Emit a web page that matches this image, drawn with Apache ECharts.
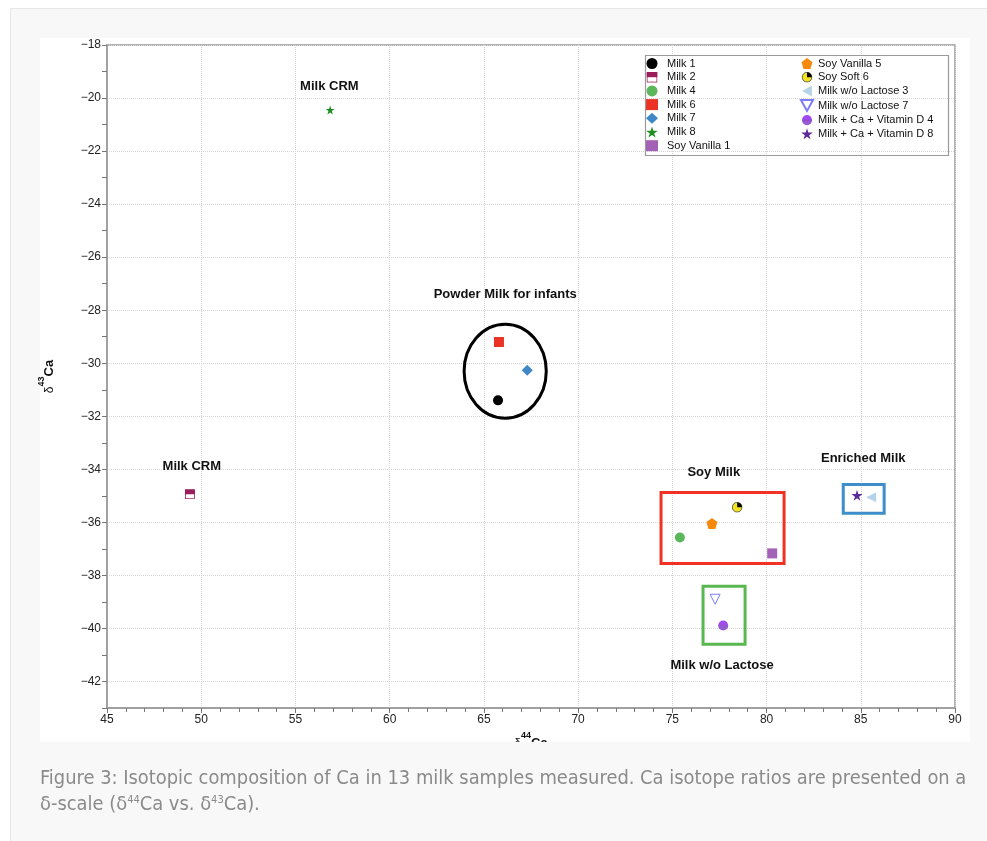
<!DOCTYPE html>
<html>
<head>
<meta charset="utf-8">
<script src="https://cdn.jsdelivr.net/npm/echarts@6/dist/echarts.min.js"></script>
<style>
html, body { margin: 0; padding: 0; background: #fff; }
#main { width: 987px; height: 841px; }
</style>
</head>
<body>
<div id="main"></div>
<script>
// samples (delta44Ca, delta43Ca)
var sampleNames = ['Milk 1', 'Milk 2', 'Milk 4', 'Milk 6', 'Milk 7', 'Milk 8', 'Soy Vanilla 1',
	'Soy Vanilla 5', 'Soy Soft 6', 'Milk w/o Lactose 3', 'Milk w/o Lactose 7',
	'Milk + Ca + Vitamin D 4', 'Milk + Ca + Vitamin D 8'];
var d44 = [65.75, 49.4, 75.4, 65.8, 67.3, 56.84, 80.3, 77.1, 78.44, 85.55, 77.27, 77.7, 84.8];
var d43 = [-31.4, -34.94, -36.57, -29.2, -30.26, -20.45, -37.17, -36.04, -35.43, -35.05, -38.9, -39.89, -34.98];

// group captions
var groupNames = ['Milk CRM', 'Powder Milk for infants', 'Milk CRM', 'Soy Milk', 'Enriched Milk', 'Milk w/o Lactose'];
var groupX = [56.8, 66.13, 49.5, 77.2, 85.13, 77.64];
var groupY = [-19.55, -27.4, -33.89, -34.11, -33.58, -41.4];

// boxes round the groups: x0, y0, x1, y1
var boxX0 = [74.4, 76.63, 84.07];
var boxY0 = [-34.87, -38.41, -34.57];
var boxX1 = [80.93, 78.86, 86.24];
var boxY1 = [-37.55, -40.6, -35.66];
var boxColors = ['#f03224', '#58b84f', '#3d8ec9'];

// ellipse round the infant milks: cx, cy, rx, ry
var ellipseC = [66.13, -30.3];
var ellipseR = [2.18, 1.77];

var star = 'path://M50,0 L61,35 L98,35 L68,57 L79,91 L50,70 L21,91 L32,57 L2,35 L39,35 Z';
var pentagon = 'path://M50,0 L100,38 L81,100 L19,100 L0,38 Z';
var triLeft = 'path://M0,50 L90,0 L90,100 Z';
var triDown = 'path://M0,0 L100,0 L50,90 Z';

function svgIcon(body) {
	return 'image://data:image/svg+xml;charset=utf-8,' + encodeURIComponent(
		"<svg xmlns='http://www.w3.org/2000/svg' width='24' height='24' viewBox='0 0 12 12'>" + body + "</svg>");
}
var halfSquare = svgIcon("<rect x='0.6' y='0.6' width='10.8' height='10.8' fill='#fff' stroke='#9b1c5b' stroke-width='1'/><rect x='0' y='0' width='12' height='6' fill='#9b1c5b'/>");
var pieCircle = svgIcon("<circle cx='6' cy='6' r='5.3' fill='#f3e322' stroke='#333' stroke-width='0.8'/><path d='M6,6 L6,0.7 A5.3,5.3 0 0 1 11.3,6 Z' fill='#000'/>");
var halfCircle = svgIcon("<path d='M0.5,6 A5.5,5.5 0 0 1 11.5,6 Z' fill='#a24cf0'/><path d='M0.5,6 A5.5,5.5 0 0 0 11.5,6 Z' fill='#9657d2'/><line x1='0.5' y1='6' x2='11.5' y2='6' stroke='#7a3fb0' stroke-width='0.6'/>");

var symbols = ['circle', halfSquare, 'circle', 'rect', 'diamond', star, 'rect',
	pentagon, pieCircle, triLeft, triDown, halfCircle, star];
var sizes = [10, 10, 10, 10, 11, 9, 10, 11, 11, 10, 10, 11, 11];
var colors = ['#000000', '#9b1c5b', '#5cb65a', '#ea3325', '#3f88c8', '#1d8f20', '#a362b5',
	'#f7890f', '#f3e322', '#b7d3ea', '#ffffff', '#a24cf0', '#5a2a98'];

var font = 'Liberation Sans, Arial, Helvetica, sans-serif';
var capFont = '"DejaVu Sans Condensed", "Liberation Sans Narrow", sans-serif';

var series = sampleNames.map(function (name, i) {
	var s = {
		name: name,
		type: 'scatter',
		symbol: symbols[i],
		symbolSize: sizes[i],
		itemStyle: { color: colors[i], opacity: 1 },
		data: [[d44[i], d43[i]]],
		z: 5
	};
	if (name === 'Milk w/o Lactose 7') {
		s.itemStyle = { color: '#ffffff', borderColor: '#7d7dfa', borderWidth: 1, opacity: 1 };
	}
	return s;
});

series.push({
	type: 'custom',
	name: 'boxes',
	silent: true,
	z: 3,
	data: boxX0.map(function (v, i) { return [v, boxY0[i], boxX1[i], boxY1[i]]; }),
	encode: { x: [0, 2], y: [1, 3] },
	renderItem: function (params, api) {
		var p0 = api.coord([api.value(0), api.value(1)]);
		var p1 = api.coord([api.value(2), api.value(3)]);
		return {
			type: 'rect',
			shape: { x: Math.min(p0[0], p1[0]), y: Math.min(p0[1], p1[1]),
				width: Math.abs(p1[0] - p0[0]), height: Math.abs(p1[1] - p0[1]) },
			style: { fill: 'none', stroke: boxColors[params.dataIndex], lineWidth: 3 }
		};
	}
});

series.push({
	type: 'custom',
	name: 'ellipse',
	silent: true,
	z: 3,
	data: [[ellipseC[0], ellipseC[1], ellipseR[0], ellipseR[1]]],
	encode: { x: 0, y: 1 },
	renderItem: function (params, api) {
		var c = api.coord([api.value(0), api.value(1)]);
		var px = api.coord([api.value(0) + api.value(2), api.value(1)]);
		var py = api.coord([api.value(0), api.value(1) + api.value(3)]);
		return {
			type: 'ellipse',
			shape: { cx: c[0], cy: c[1], rx: Math.abs(px[0] - c[0]), ry: Math.abs(c[1] - py[1]) },
			style: { fill: 'none', stroke: '#000', lineWidth: 3 }
		};
	}
});

series.push({
	type: 'custom',
	name: 'groups',
	silent: true,
	z: 4,
	data: groupX.map(function (v, i) { return [v, groupY[i]]; }),
	encode: { x: 0, y: 1 },
	renderItem: function (params, api) {
		var p = api.coord([api.value(0), api.value(1)]);
		return {
			type: 'text',
			x: p[0],
			y: p[1],
			style: { text: groupNames[params.dataIndex], font: 'bold 13px ' + font, fill: '#111',
				align: 'center', verticalAlign: 'middle' }
		};
	}
});

var option = {
	backgroundColor: '#ffffff',
	animation: false,
	textStyle: { fontFamily: font },
	grid: {
		left: 107, right: 32, top: 45, bottom: 133,
		show: true, borderColor: '#9a9a9a', borderWidth: 1.5, backgroundColor: '#fff'
	},
	legend: [{
		data: sampleNames.slice(0, 7),
		orient: 'vertical',
		left: 646, top: 58, padding: 0,
		itemWidth: 12, itemHeight: 11, itemGap: 2.7,
		textStyle: { fontSize: 11, color: '#111', fontFamily: font, lineHeight: 11, padding: [0, 0, 0, 4] },
		selectedMode: false
	}, {
		data: sampleNames.slice(7),
		orient: 'vertical',
		left: 800, top: 58, padding: 0,
		itemWidth: 12, itemHeight: 11, itemGap: 2.7,
		textStyle: { fontSize: 11, color: '#111', fontFamily: font, lineHeight: 11 },
		selectedMode: false
	}],
	xAxis: {
		type: 'value',
		min: 45, max: 90, interval: 5,
		name: '{d|δ}{s|44}{b|Ca}',
		nameLocation: 'middle',
		nameGap: 18,
		nameTextStyle: {
			rich: {
				d: { fontSize: 12, color: '#111', verticalAlign: 'bottom', padding: [6, 0, 0, 0] },
				s: { fontSize: 9, fontWeight: 'bold', color: '#111', verticalAlign: 'top' },
				b: { fontSize: 13, fontWeight: 'bold', color: '#111', padding: [6, 0, 0, 0] }
			}
		},
		axisLine: { lineStyle: { color: '#9a9a9a', width: 1.5 } },
		axisTick: { length: 5, lineStyle: { color: '#777' } },
		minorTick: { show: true, splitNumber: 5, length: 4, lineStyle: { color: '#777' } },
		axisLabel: { fontSize: 12, color: '#222', margin: 6 },
		splitLine: { show: true, lineStyle: { color: '#d6d6d6', type: 'dotted' } }
	},
	yAxis: {
		type: 'value',
		min: -43, max: -18, interval: 1,
		name: '{d|δ}{s|43}{b|Ca}',
		nameLocation: 'middle',
		nameGap: 51,
		nameTextStyle: {
			rich: {
				d: { fontSize: 12, color: '#111', padding: [6, 0, 0, 0] },
				s: { fontSize: 9, fontWeight: 'bold', color: '#111', verticalAlign: 'top' },
				b: { fontSize: 13, fontWeight: 'bold', color: '#111', padding: [6, 0, 0, 0] }
			}
		},
		axisLine: { show: true, lineStyle: { color: '#9a9a9a', width: 1.5 } },
		axisTick: { length: 5, lineStyle: { color: '#777' } },
		axisLabel: {
			fontSize: 12, color: '#222', margin: 6,
			formatter: function (v) { return v % 2 === 0 ? String(v).replace('-', '\u2212') : ''; }
		},
		splitLine: { show: true, lineStyle: { color: ['rgba(0,0,0,0)', '#d6d6d6'], type: 'dotted' } }
	},
	graphic: [
		{ type: 'rect', z: -20, shape: { x: 10.5, y: 8.5, width: 990, height: 850 },
			style: { fill: '#f8f8f8', stroke: '#e6e6e6', lineWidth: 1 } },
		{ type: 'rect', z: -19, shape: { x: 40, y: 38, width: 930, height: 704 },
			style: { fill: '#ffffff' } },
		{ type: 'rect', z: 20, shape: { x: 645.5, y: 55.5, width: 303, height: 100 },
			style: { fill: 'none', stroke: '#9a9a9a', lineWidth: 1.2 } },
		{ type: 'rect', z: 100, shape: { x: 11, y: 742, width: 990, height: 110 },
			style: { fill: '#f8f8f8' } },
		{ type: 'text', z: 101, left: 40, top: 769,
			style: { text: 'Figure 3: Isotopic composition of Ca in 13 milk samples measured. Ca isotope ratios are presented on a',
				font: '19.9px ' + capFont, fill: '#8a8a8a' } },
		{ type: 'text', z: 101, left: 40, top: 795,
			style: { text: 'δ-scale (δ{s|44}Ca vs. δ{s|43}Ca).',
				font: '19.9px ' + capFont, fill: '#8a8a8a',
				rich: { s: { fontSize: 11, fill: '#8a8a8a', verticalAlign: 'top', fontFamily: capFont } } } }
	],
	series: series
};

var chart = echarts.init(document.getElementById('main'));
chart.setOption(option);
</script>
</body>
</html>
